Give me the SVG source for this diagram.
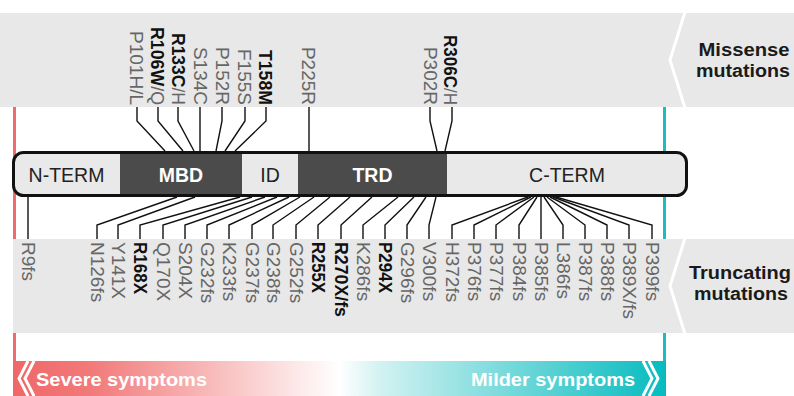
<svg xmlns="http://www.w3.org/2000/svg" width="794" height="396" viewBox="0 0 794 396">
<defs>
<style>
.lab{font-family:"Liberation Sans",Arial,sans-serif;font-size:19px;fill:#666}
.b{font-weight:bold;fill:#111}
.dom{font-family:"Liberation Sans",Arial,sans-serif;font-size:19.5px;text-anchor:middle}
.side{font-family:"Liberation Sans",Arial,sans-serif;font-size:18px;font-weight:bold;fill:#1a1a1a;text-anchor:middle}
.sym{font-family:"Liberation Sans",Arial,sans-serif;font-size:19px;font-weight:bold;fill:#fff}
.ld{fill:none;stroke:#111;stroke-width:1.4}
.chev{fill:none;stroke:#fff;stroke-width:3}
</style>
<linearGradient id="grad" x1="13" y1="0" x2="666" y2="0" gradientUnits="userSpaceOnUse">
<stop offset="0" stop-color="#f06768"/>
<stop offset="0.12" stop-color="#f27a7a"/>
<stop offset="0.5" stop-color="#ffffff"/>
<stop offset="0.56" stop-color="#d3f2f2"/>
<stop offset="1" stop-color="#06bbbf"/>
</linearGradient>
</defs>

<g id="bands">
<rect x="0" y="13" width="794" height="94" fill="#e8e8e8"/>
<rect x="13" y="239" width="781" height="94" fill="#e8e8e8"/>
<polyline class="chev" points="685,12 670,60 685,108"/>
<polyline class="chev" points="685,238 670,286 685,334"/>
<rect x="13" y="107" width="3" height="132" fill="#f06b6b"/>
<rect x="663" y="107" width="3" height="132" fill="#17bec2"/>
<rect x="13" y="333" width="3" height="63" fill="#f06b6b"/>
<rect x="663" y="333" width="3" height="63" fill="#17bec2"/>
</g>

<g id="severity">
<rect x="13" y="361" width="653" height="35" fill="url(#grad)"/>
<polyline class="chev" stroke-width="1.6" points="28,361 19,378.5 28,396"/>
<polyline class="chev" stroke-width="1.6" points="34,361 25,378.5 34,396"/>
<polyline class="chev" stroke-width="1.6" points="649,361 658,378.5 649,396"/>
<polyline class="chev" stroke-width="1.6" points="643,361 652,378.5 643,396"/>
<text class="sym" x="36" y="386" textLength="171" lengthAdjust="spacingAndGlyphs">Severe symptoms</text>
<text class="sym" x="635" y="386" text-anchor="end" textLength="164" lengthAdjust="spacingAndGlyphs">Milder symptoms</text>
</g>

<g id="side-labels">
<text class="side" x="744" y="56" textLength="91" lengthAdjust="spacingAndGlyphs">Missense</text>
<text class="side" x="743" y="76.5" textLength="94" lengthAdjust="spacingAndGlyphs">mutations</text>
<text class="side" x="740" y="279" textLength="102" lengthAdjust="spacingAndGlyphs">Truncating</text>
<text class="side" x="741" y="299.5" textLength="94" lengthAdjust="spacingAndGlyphs">mutations</text>
</g>

<g id="connectors">
<polyline class="ld" points="137,107 137,121 165,151"/>
<polyline class="ld" points="158,107 158,121 183,151"/>
<polyline class="ld" points="178,107 178,121 194,151"/>
<polyline class="ld" points="200,107 200,151"/>
<polyline class="ld" points="222,107 222,121 216,151"/>
<polyline class="ld" points="245,107 245,121 225,151"/>
<polyline class="ld" points="266,107 266,121 235,151"/>
<polyline class="ld" points="309,107 309,151"/>
<polyline class="ld" points="430,107 430,121 437,151"/>
<polyline class="ld" points="452,107 452,121 445,151"/>

<polyline class="ld" points="28,197 28,239"/>
<polyline class="ld" points="97,239 97,225 177,197"/>
<polyline class="ld" points="118,239 118,225 195,197"/>
<polyline class="ld" points="140,239 140,225 240,197"/>
<polyline class="ld" points="163,239 163,225 252,197"/>
<polyline class="ld" points="185,239 185,225 265,197"/>
<polyline class="ld" points="207,239 207,225 277,197"/>
<polyline class="ld" points="229,239 229,225 289,197"/>
<polyline class="ld" points="252,239 252,225 300,197"/>
<polyline class="ld" points="273,239 273,225 314,197"/>
<polyline class="ld" points="296,239 296,225 330,197"/>
<polyline class="ld" points="318,239 318,225 350,197"/>
<polyline class="ld" points="341,239 341,225 372,197"/>
<polyline class="ld" points="363,239 363,225 398,197"/>
<polyline class="ld" points="385,239 385,225 414,197"/>
<polyline class="ld" points="407,239 407,225 426,197"/>
<polyline class="ld" points="429,239 429,225 436,197"/>
<polyline class="ld" points="452,239 452,225 528,197"/>
<polyline class="ld" points="474,239 474,225 531,197"/>
<polyline class="ld" points="496,239 496,225 534,197"/>
<polyline class="ld" points="519,239 519,225 537,197"/>
<polyline class="ld" points="541,239 541,197"/>
<polyline class="ld" points="563,239 563,225 544,197"/>
<polyline class="ld" points="585,239 585,225 547,197"/>
<polyline class="ld" points="607,239 607,225 550,197"/>
<polyline class="ld" points="629,239 629,225 553,197"/>
<polyline class="ld" points="652,239 652,225 556,197"/>
</g>

<g id="protein">
<rect x="13.5" y="152.5" width="673" height="43" rx="10" fill="#e9e9e9"/>
<rect x="120" y="152.5" width="122" height="43" fill="#4b4b4b"/>
<rect x="298" y="152.5" width="149" height="43" fill="#4b4b4b"/>
<rect x="13.5" y="152.5" width="673" height="43" rx="10" fill="none" stroke="#111" stroke-width="3"/>
</g>
<g id="n-term"><text class="dom" x="66.5" y="182" fill="#222">N-TERM</text></g>
<g id="mbd"><text class="dom" x="181" y="182" fill="#fff" font-weight="bold">MBD</text></g>
<g id="id"><text class="dom" x="270" y="182" fill="#222">ID</text></g>
<g id="trd"><text class="dom" x="372.5" y="182" fill="#fff" font-weight="bold">TRD</text></g>
<g id="c-term"><text class="dom" x="567" y="182" fill="#222">C-TERM</text></g>

<g id="missense" text-anchor="end">
<g id="m-P101HL"><text class="lab" transform="translate(130,105) rotate(90)">P101H/L</text></g>
<g id="m-R106WQ"><text class="lab" transform="translate(150.5,105) rotate(90)" textLength="78" lengthAdjust="spacingAndGlyphs"><tspan class="b">R106W</tspan>/Q</text></g>
<g id="m-R133CH"><text class="lab" transform="translate(172,105) rotate(90)" textLength="72" lengthAdjust="spacingAndGlyphs"><tspan class="b">R133C</tspan>/H</text></g>
<g id="m-S134C"><text class="lab" transform="translate(193.5,105) rotate(90)">S134C</text></g>
<g id="m-P152R"><text class="lab" transform="translate(215.5,105) rotate(90)">P152R</text></g>
<g id="m-F155S"><text class="lab" transform="translate(237.5,105) rotate(90)">F155S</text></g>
<g id="m-T158M"><text class="lab b" transform="translate(258.5,105) rotate(90)" textLength="55" lengthAdjust="spacingAndGlyphs">T158M</text></g>
<g id="m-P225R"><text class="lab" transform="translate(301.5,105) rotate(90)">P225R</text></g>
<g id="m-P302R"><text class="lab" transform="translate(423.5,105) rotate(90)">P302R</text></g>
<g id="m-R306CH"><text class="lab" transform="translate(443.5,105) rotate(90)" textLength="70" lengthAdjust="spacingAndGlyphs"><tspan class="b">R306C</tspan>/H</text></g>
</g>

<g id="truncating">
<g id="t-R9fs"><text class="lab" transform="translate(21.5,242) rotate(90)">R9fs</text></g>
<g id="t-N126fs"><text class="lab" transform="translate(90.5,242) rotate(90)">N126fs</text></g>
<g id="t-Y141X"><text class="lab" transform="translate(111.5,242) rotate(90)">Y141X</text></g>
<g id="t-R168X"><text class="lab b" transform="translate(133.5,242) rotate(90)" textLength="52" lengthAdjust="spacingAndGlyphs">R168X</text></g>
<g id="t-Q170X"><text class="lab" transform="translate(156.5,242) rotate(90)">Q170X</text></g>
<g id="t-S204X"><text class="lab" transform="translate(178.5,242) rotate(90)">S204X</text></g>
<g id="t-G232fs"><text class="lab" transform="translate(200.5,242) rotate(90)">G232fs</text></g>
<g id="t-K233fs"><text class="lab" transform="translate(222.5,242) rotate(90)">K233fs</text></g>
<g id="t-G237fs"><text class="lab" transform="translate(245.5,242) rotate(90)">G237fs</text></g>
<g id="t-G238fs"><text class="lab" transform="translate(266.5,242) rotate(90)">G238fs</text></g>
<g id="t-G252fs"><text class="lab" transform="translate(289.5,242) rotate(90)">G252fs</text></g>
<g id="t-R255X"><text class="lab b" transform="translate(311.5,242) rotate(90)" textLength="51" lengthAdjust="spacingAndGlyphs">R255X</text></g>
<g id="t-R270Xfs"><text class="lab b" transform="translate(334.5,242) rotate(90)" textLength="75" lengthAdjust="spacingAndGlyphs">R270X/fs</text></g>
<g id="t-K286fs"><text class="lab" transform="translate(356.5,242) rotate(90)">K286fs</text></g>
<g id="t-P294X"><text class="lab b" transform="translate(378.5,242) rotate(90)" textLength="51" lengthAdjust="spacingAndGlyphs">P294X</text></g>
<g id="t-G296fs"><text class="lab" transform="translate(400.5,242) rotate(90)">G296fs</text></g>
<g id="t-V300fs"><text class="lab" transform="translate(422.5,242) rotate(90)">V300fs</text></g>
<g id="t-H372fs"><text class="lab" transform="translate(445.5,242) rotate(90)">H372fs</text></g>
<g id="t-P376fs"><text class="lab" transform="translate(467.5,242) rotate(90)">P376fs</text></g>
<g id="t-P377fs"><text class="lab" transform="translate(489.5,242) rotate(90)">P377fs</text></g>
<g id="t-P384fs"><text class="lab" transform="translate(512.5,242) rotate(90)">P384fs</text></g>
<g id="t-P385fs"><text class="lab" transform="translate(534.5,242) rotate(90)">P385fs</text></g>
<g id="t-L386fs"><text class="lab" transform="translate(556.5,242) rotate(90)">L386fs</text></g>
<g id="t-P387fs"><text class="lab" transform="translate(578.5,242) rotate(90)">P387fs</text></g>
<g id="t-P388fs"><text class="lab" transform="translate(600.5,242) rotate(90)">P388fs</text></g>
<g id="t-P389Xfs"><text class="lab" transform="translate(622.5,242) rotate(90)">P389X/fs</text></g>
<g id="t-P399fs"><text class="lab" transform="translate(645.5,242) rotate(90)">P399fs</text></g>
</g>
</svg>
